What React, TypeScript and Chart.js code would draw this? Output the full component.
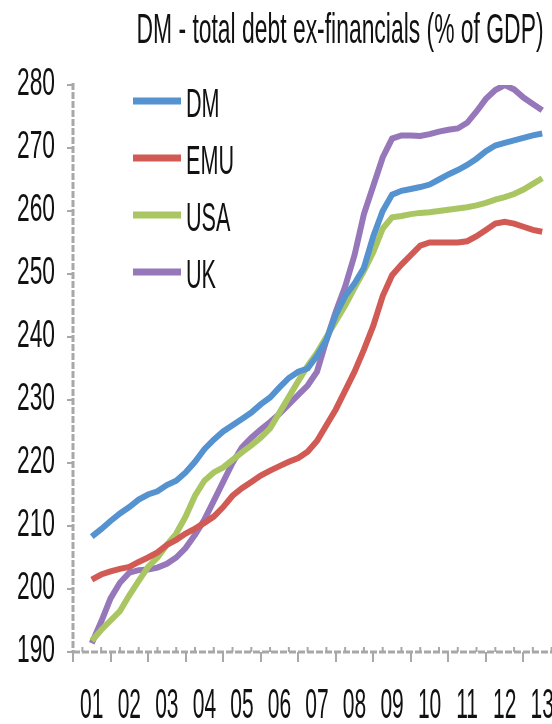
import React, { useEffect, useRef } from "react";
import { Chart, registerables } from "chart.js";

Chart.register(...registerables);

const TITLE = "DM - total debt ex-financials (% of GDP)";
const yearLabels = ["01", "02", "03", "04", "05", "06", "07", "08", "09", "10", "11", "12", "13"];
const seriesNames = ["DM", "EMU", "USA", "UK"];
const seriesColors = ["#5592d0", "#d25a55", "#a9c663", "#9677b9"];

// quarterly values, 2001 Q1 .. 2013 Q1
const dmValues = [
  208.3, 209.5, 210.8, 212, 213, 214.2, 215, 215.5, 216.5, 217.2, 218.5, 220.2,
  222.2, 223.7, 225, 226, 227, 228, 229.3, 230.4, 232, 233.5, 234.5, 235,
  237, 239.5, 243.5, 246.5, 248.5, 251, 256, 260, 262.6, 263.2, 263.5, 263.8,
  264.2, 265, 265.8, 266.5, 267.3, 268.3, 269.5, 270.4, 270.8, 271.2, 271.6, 272, 272.3,
];
const emuValues = [
  201.5, 202.3, 202.8, 203.2, 203.5, 204.3, 205, 205.8, 207, 207.8, 208.8, 209.6,
  210.5, 211.5, 213, 214.8, 216, 217, 218, 218.8, 219.5, 220.2, 220.8, 221.8,
  223.5, 226, 228.5, 231.5, 234.5, 238, 241.8, 246.5, 249.8, 251.5, 253, 254.5,
  255, 255, 255, 255, 255.2, 256, 257, 258, 258.3, 258, 257.5, 257, 256.7,
];
const usaValues = [
  191.8, 193.5, 195, 196.5, 199, 201.3, 203.5, 205, 207, 208.8, 211.5, 214.8,
  217.2, 218.5, 219.3, 220.5, 221.7, 222.8, 224, 225.5, 228, 230.5, 233, 235.4,
  237.5, 240, 242.5, 245, 247.8, 250.5, 253.5, 257.2, 259, 259.2, 259.5, 259.7,
  259.8, 260, 260.2, 260.4, 260.6, 260.9, 261.3, 261.8, 262.2, 262.7, 263.4, 264.3, 265.2,
];
const ukValues = [
  191.4, 194.8, 198.5, 201, 202.6, 203, 203.1, 203.4, 204, 205, 206.5, 208.6,
  211, 214, 217, 220, 222.5, 224, 225.3, 226.5, 227.8, 229.3, 230.8, 232.3,
  234.5, 239.5, 244, 248, 253, 259.5, 264, 268.5, 271.5, 272, 272, 271.9,
  272.2, 272.6, 272.9, 273.1, 274, 275.8, 277.8, 279.2, 280, 279.3, 278, 277, 276,
];
const allValues = [dmValues, emuValues, usaValues, ukValues];

const FONT = "'Liberation Sans', Arial, sans-serif";
const AXIS_GREY = "#a8a8a8";

function drawText(
  ctx: CanvasRenderingContext2D,
  text: string,
  x: number,
  y: number,
  size: number,
  sx: number,
  align: CanvasTextAlign
) {
  ctx.save();
  ctx.translate(x, y);
  ctx.scale(sx, 1);
  ctx.font = `${size}px ${FONT}`;
  ctx.textAlign = align;
  ctx.textBaseline = "alphabetic";
  ctx.fillText(text, 0, 0);
  ctx.restore();
}

const decorPlugin = {
  id: "decor",
  afterDraw(chart: any) {
    const ctx: CanvasRenderingContext2D = chart.ctx;
    const area = chart.chartArea;
    const xs = chart.scales.x;
    const ys = chart.scales.y;
    const xq = chart.scales.xq;
    ctx.save();

    // axis lines (dotted grey look)
    ctx.strokeStyle = AXIS_GREY;
    ctx.lineWidth = 3;
    ctx.setLineDash([7, 2]);
    ctx.beginPath();
    ctx.moveTo(area.left, area.top - 2);
    ctx.lineTo(area.left, area.bottom);
    ctx.moveTo(area.left, area.bottom);
    ctx.lineTo(area.right, area.bottom);
    ctx.stroke();
    ctx.setLineDash([]);

    // small upward ticks every half year
    ctx.lineWidth = 2;
    ctx.beginPath();
    for (let i = -1; i <= 49; i += 2) {
      const px = xq.getPixelForValue(i);
      ctx.moveTo(px, area.bottom);
      ctx.lineTo(px, area.bottom - 5);
    }
    ctx.stroke();

    ctx.fillStyle = "#111";
    // title
    drawText(ctx, TITLE, 340, 43, 42, 0.545, "center");

    // y tick labels
    ys.ticks.forEach((t: any, i: number) => {
      const py = ys.getPixelForTick(i);
      drawText(ctx, String(t.value), 55, py + 10, 38, 0.6, "right");
    });

    // x tick labels
    xs.ticks.forEach((_t: any, i: number) => {
      const px = xs.getPixelForTick(i);
      drawText(ctx, yearLabels[i], px, 718, 42, 0.5, "center");
    });

    // legend
    seriesNames.forEach((name, i) => {
      const ly = 101 + i * 57;
      ctx.strokeStyle = seriesColors[i];
      ctx.lineWidth = 7;
      ctx.beginPath();
      ctx.moveTo(133, ly);
      ctx.lineTo(181, ly);
      ctx.stroke();
      ctx.fillStyle = "#111";
      drawText(ctx, name, 186, ly + 16, 40, 0.54, "left");
    });

    ctx.restore();
  },
};

export default function App() {
  const canvasRef = useRef<HTMLCanvasElement | null>(null);

  useEffect(() => {
    const canvas = canvasRef.current;
    if (!canvas) return;
    const chart = new Chart(canvas, {
      type: "line",
      data: {
        datasets: seriesNames.map((name, s) => ({
          label: name,
          data: allValues[s].map((v, i) => ({ x: i, y: v })),
          xAxisID: "xq",
          yAxisID: "y",
          borderColor: seriesColors[s],
          backgroundColor: seriesColors[s],
          borderWidth: 6,
          pointRadius: 0,
          tension: 0,
          fill: false,
        })),
      },
      options: {
        responsive: false,
        animation: false,
        events: [],
        layout: { padding: { top: 85, right: 5, left: 0, bottom: 0 } },
        plugins: {
          legend: { display: false },
          title: { display: false },
          tooltip: { enabled: false },
        },
        scales: {
          x: {
            type: "category",
            labels: yearLabels,
            position: "bottom",
            offset: true,
            border: { display: false },
            grid: {
              offset: true,
              drawOnChartArea: false,
              drawTicks: true,
              tickLength: 10,
              color: AXIS_GREY,
              lineWidth: 2,
            },
            ticks: { color: "rgba(0,0,0,0)", autoSkip: false, maxRotation: 0, font: { size: 8 } },
            afterFit: (s: any) => {
              s.height = 72;
            },
          },
          xq: {
            type: "linear",
            display: false,
            min: -2,
            max: 50,
          },
          y: {
            type: "linear",
            min: 190,
            max: 280,
            border: { display: false },
            grid: {
              drawOnChartArea: false,
              drawTicks: true,
              tickLength: 6,
              color: AXIS_GREY,
              lineWidth: 2,
            },
            ticks: { stepSize: 10, color: "rgba(0,0,0,0)", font: { size: 8 } },
            afterFit: (s: any) => {
              s.width = 73;
            },
          },
        },
      },
      plugins: [decorPlugin],
    } as any);
    return () => chart.destroy();
  }, []);

  return (
    <div
      style={{
        position: "fixed",
        left: 0,
        top: 0,
        width: 552,
        height: 724,
        overflow: "hidden",
        background: "#fff",
      }}
    >
      <canvas ref={canvasRef} width={566} height={724} style={{ display: "block" }} />
    </div>
  );
}
